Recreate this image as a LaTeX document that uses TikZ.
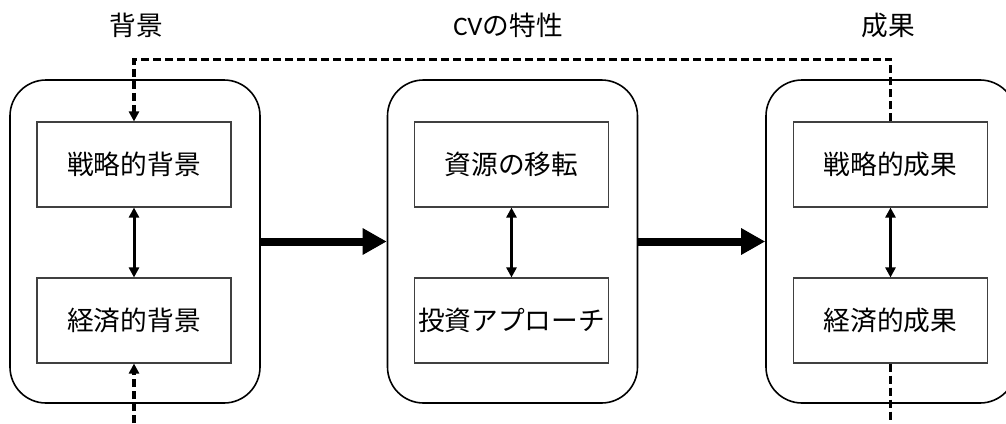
\documentclass[tikz,border=0pt]{standalone}
\usepackage{fontspec}
\setmainfont{Noto Sans CJK JP}
\newfontfamily\latinf{Carlito}
\usetikzlibrary{arrows.meta}
\tikzset{
  outerbox/.style={draw=black, line width=1.6pt, rounded corners=36pt, minimum width=250pt, minimum height=323pt, inner sep=0pt},
  innerbox/.style={draw=black!75, line width=1.1pt, minimum width=194pt, minimum height=85pt, inner sep=0pt, font=\fontsize{26.7}{30}\selectfont},
  title/.style={font=\fontsize{26.7}{30}\selectfont, inner sep=0pt},
  bigarrow/.style={line width=8pt, -{Triangle[length=24pt,width=25pt]}},
  bothway/.style={line width=3pt, {Triangle[length=10pt,width=10pt]}-{Triangle[length=10pt,width=10pt]}},
  dashline/.style={line width=3.5pt, dash pattern=on 8pt off 4pt},
  dasharrow/.style={dashline, -{Triangle[length=10pt,width=10pt]}}
}
\begin{document}
\begin{tikzpicture}[x=1pt,y=-1pt]
\useasboundingbox (0,0) rectangle (1006,423);
% titles
\node[title] (t1) at (136,25) {背景};
\node[title] (t2) at (508,25) {{\latinf CV}の特性};
\node[title] (t3) at (888,25) {成果};
% outer boxes
\node[outerbox] (ol) at (135,241.5) {};
\node[outerbox] (om) at (512.5,241.5) {};
\node[outerbox] (or) at (891,241.5) {};
% inner boxes
\node[innerbox] (l1) at (134,164.5) {戦略的背景};
\node[innerbox] (l2) at (134,320.5) {経済的背景};
\node[innerbox] (m1) at (511.5,164.5) {資源の移転};
\node[innerbox] (m2) at (511.5,320.5) {投資アプローチ};
\node[innerbox] (r1) at (890.5,164.5) {戦略的成果};
\node[innerbox] (r2) at (890.5,320.5) {経済的成果};
% main arrows
\draw[bigarrow] (ol.east) -- (om.west);
\draw[bigarrow] (om.east) -- (or.west);
% internal two-way arrows
\draw[bothway] (l1.south) -- (l2.north);
\draw[bothway] (m1.south) -- (m2.north);
\draw[bothway] (r1.south) -- (r2.north);
% feedback dashed
\draw[dasharrow] (r1.north) -- ++(0,-62) -| (l1.north);
\coordinate (lb) at (134,423);
\coordinate (rb) at (890.5,423);
\draw[dasharrow] (lb) -- (l2.south);
\draw[dashline] (r2.south) -- (rb);
\end{tikzpicture}
\end{document}
